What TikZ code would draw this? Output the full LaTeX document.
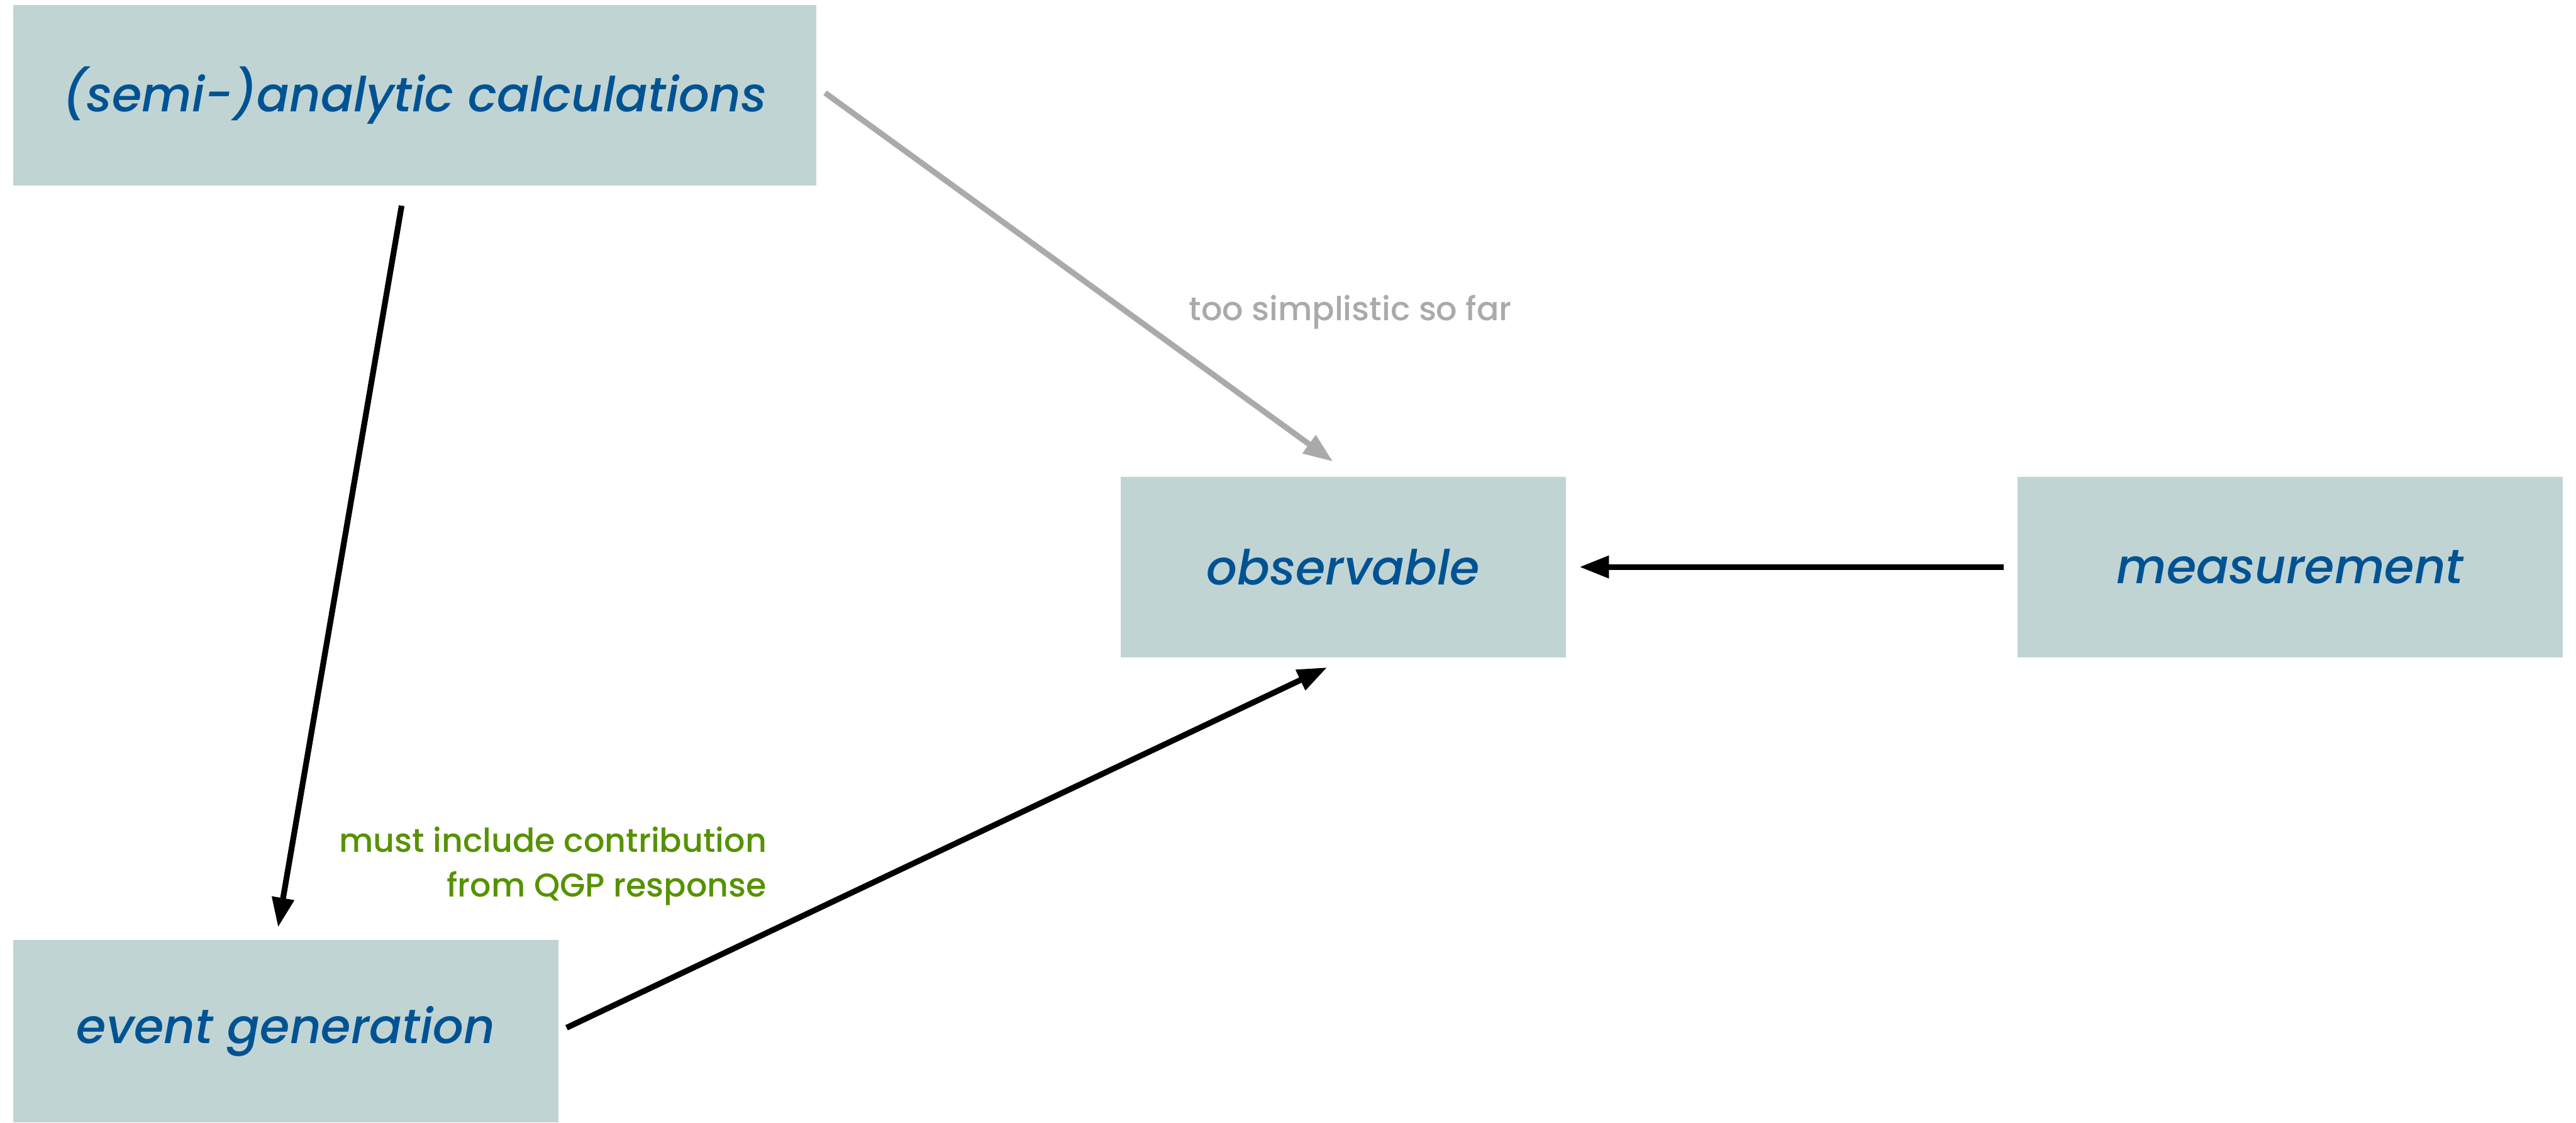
\documentclass[tikz,border=0pt]{standalone}
\usepackage{fontspec}
\setmainfont{Poppins}
\newfontfamily\stagefont{Poppins Medium Italic}
\newfontfamily\remarkfont{Poppins Medium}
\usepackage{xcolor}
\usepackage{tikz}
\usetikzlibrary{arrows.meta,positioning}
\definecolor{boxgrey}{RGB}{193,212,212}
\definecolor{obsblue}{RGB}{0,83,147}
\definecolor{qgpgreen}{RGB}{86,146,0}
\definecolor{simplegrey}{RGB}{170,170,170}

\begin{document}
\begin{tikzpicture}[
    stage/.style={fill=boxgrey, minimum height=2.2cm, inner sep=0pt, text=obsblue, font=\stagefont\fontsize{16.7}{21}\selectfont},
    flow/.style={-{Triangle[length=0.36cm, width=0.26cm]}, line width=2pt},
    remark/.style={font=\remarkfont\fontsize{11.4}{15.5}\selectfont, align=right, inner sep=0pt},
]
    \useasboundingbox (0,0) rectangle (31.36,13.66);

    % Boxes
    \node[stage, minimum width=9.78cm] (calc) at (5.05,12.5) {(semi-)analytic calculations};
    \node[stage, minimum width=5.42cm] (obs) at (16.35,6.76) {observable};
    \node[stage, minimum width=6.64cm] (meas) at (27.88,6.76) {measurement};
    \node[stage, minimum width=6.64cm, minimum height=2.22cm] (evgen) at (3.48,1.11) {event generation};

    % Arrows
    \draw[flow, simplegrey, shorten <=0.12cm, shorten >=0.3cm] ([yshift=0.1cm]calc.east) -- ([xshift=0.12cm]obs.north);
    \draw[flow, shorten <=0.24cm, shorten >=0.15cm] ([xshift=-0.12cm]calc.south) -- ([xshift=-0.12cm]evgen.north);
    \draw[flow, shorten <=0.1cm, shorten >=0.27cm] (evgen.east) -- ([xshift=0.05cm]obs.south);
    \draw[flow, shorten <=0.16cm, shorten >=0.16cm] (meas.west) -- (obs.east);

    % Labels
    \node[remark, text=simplegrey] (simple) at (16.44,9.86) {too simplistic so far};
    \node[remark, text=qgpgreen, anchor=east] (qgp) at (9.34,3.12) {must include contribution\\from QGP response};
\end{tikzpicture}
\end{document}
